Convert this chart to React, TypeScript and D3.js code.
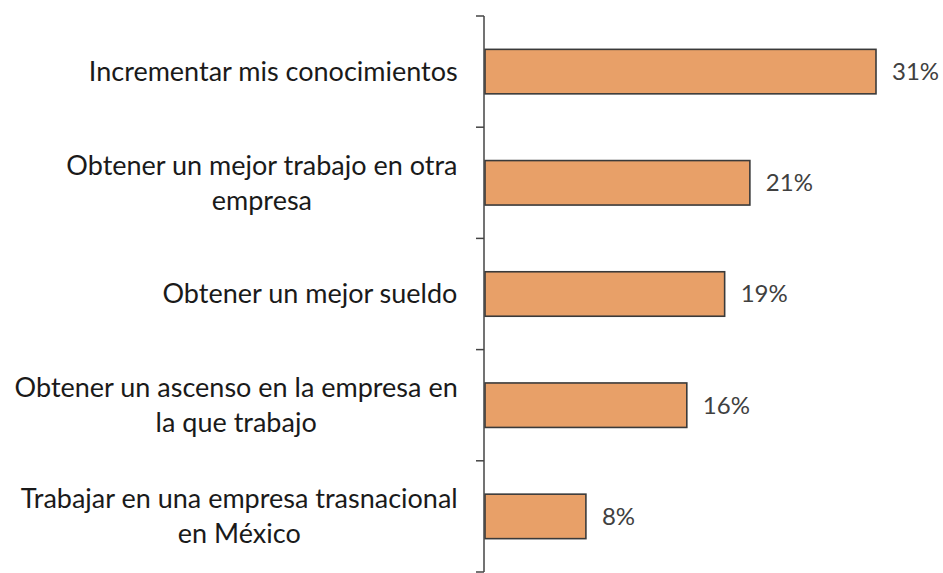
import React, { useMemo } from "react";
import * as d3 from "d3";

const categories: string[][] = [
  ["Incrementar mis conocimientos"],
  ["Obtener un mejor trabajo en otra", "empresa"],
  ["Obtener un mejor sueldo"],
  ["Obtener un ascenso en la empresa en", "la que trabajo"],
  ["Trabajar en una empresa trasnacional", "en México"],
];
const values: number[] = [31, 21, 19, 16, 8];
const valueLabels: string[] = ["31%", "21%", "19%", "16%", "8%"];

const W = 943;
const H = 573;
const FONT = "Lato, 'Open Sans', sans-serif";
const CAT_SIZE = 27;
const VAL_SIZE = 24;

export default function App() {
  const ids = categories.map((_, i) => String(i));
  const y = d3.scaleBand<string>().domain(ids).range([16, 572]).paddingInner(0.6).paddingOuter(0.3);
  const x = d3.scaleLinear().domain([0, 31]).range([485, 876]);
  const axisX = 484;
  const labelRight = 458;
  const lineGap = 35;

  const widths = useMemo(() => {
    const c = document.createElement("canvas").getContext("2d");
    if (!c) return categories.map(() => 300);
    c.font = `${CAT_SIZE}px Lato`;
    return categories.map((lines) => Math.max(...lines.map((l) => c.measureText(l).width)));
  }, []);

  const step = y.step();
  const tickYs = d3.range(categories.length + 1).map((i) => 16 + i * step);

  return (
    <svg width={W} height={H} style={{ position: "absolute", left: 0, top: 0, background: "#fff" }}>
      <rect width={W} height={H} fill="#fff" />
      {categories.map((lines, i) => {
        const cy = y(ids[i])! + y.bandwidth() / 2;
        const cx = labelRight - widths[i] / 2;
        const n = lines.length;
        return (
          <g key={i}>
            {lines.map((l, j) => (
              <text
                key={j}
                x={cx}
                y={cy + (j - (n - 1) / 2) * lineGap}
                dy="0.35em"
                textAnchor="middle"
                fontFamily={FONT}
                fontSize={CAT_SIZE}
                fill="#1a1a1a"
              >
                {l}
              </text>
            ))}
            <rect
              x={x(0)}
              y={y(ids[i])!}
              width={x(values[i]) - x(0)}
              height={y.bandwidth()}
              fill="#E8A068"
              stroke="#3a3a3a"
              strokeWidth={1.6}
            />
            <text
              x={x(values[i]) + 16}
              y={cy}
              dy="0.35em"
              fontFamily={FONT}
              fontSize={VAL_SIZE}
              fill="#404040"
            >
              {valueLabels[i]}
            </text>
          </g>
        );
      })}
      <line x1={axisX} x2={axisX} y1={tickYs[0]} y2={tickYs[tickYs.length - 1]} stroke="#444" strokeWidth={1.5} />
      {tickYs.map((t, i) => (
        <line key={i} x1={axisX - 8} x2={axisX} y1={t} y2={t} stroke="#444" strokeWidth={1.5} />
      ))}
    </svg>
  );
}
